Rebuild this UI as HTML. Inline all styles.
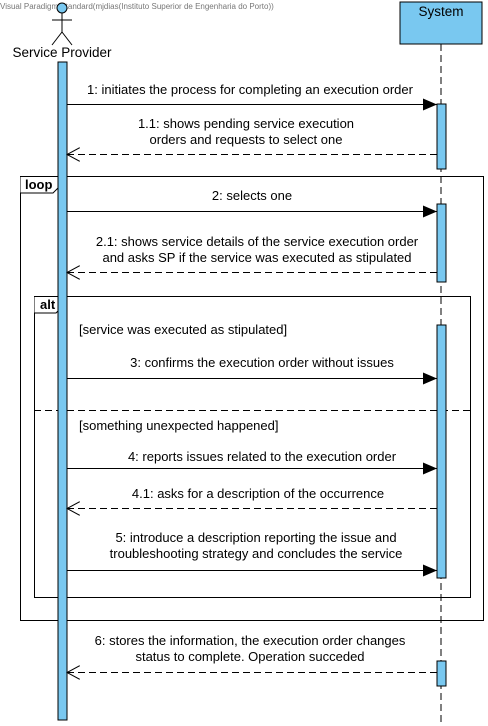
<!DOCTYPE html>
<html><head><meta charset="utf-8"><style>body{margin:0;background:#fff}svg{display:block}text{font-family:"Liberation Sans",Arial,sans-serif;font-size:13px;fill:#000}</style></head><body>
<svg width="488" height="726" viewBox="0 0 488 726">
<defs>
<marker id="f" markerWidth="14" markerHeight="12" refX="14" refY="6" orient="auto" markerUnits="userSpaceOnUse"><path d="M0,0 L14,6 L0,12 z" fill="#000"/></marker>
<marker id="o" markerWidth="14" markerHeight="14" refX="13" refY="7" orient="auto" markerUnits="userSpaceOnUse"><path d="M0,0 L13,7 L0,14" fill="none" stroke="#000"/></marker>
</defs>
<text x="0" y="9" style="font-size:8px;fill:#777">Visual Paradigm Standard(mjdias(Instituto Superior de Engenharia do Porto))</text>
<!-- actor -->
<circle cx="62" cy="8" r="5" fill="#79c8f0" stroke="#000"/>
<line x1="62" y1="13" x2="62" y2="33" stroke="#000"/>
<line x1="52" y1="20" x2="72" y2="20" stroke="#000"/>
<line x1="62" y1="32" x2="52" y2="45" stroke="#000"/>
<line x1="62" y1="32" x2="72" y2="45" stroke="#000"/>
<text x="62" y="57" text-anchor="middle" style="font-size:13.5px">Service Provider</text>
<!-- system -->
<rect x="400" y="2" width="82" height="42" fill="#79c8f0" stroke="#000"/>
<text x="441" y="16" text-anchor="middle" style="font-size:13.5px">System</text>
<line x1="441" y1="44" x2="441" y2="722" stroke="#000" stroke-dasharray="7,4"/>
<!-- frames -->
<rect x="20.5" y="176.5" width="463" height="444" fill="none" stroke="#000"/>
<path d="M20.5,176.5 H58 V188 L53,193 H20.5" fill="#fff" stroke="#000"/>
<text x="25" y="189" style="font-weight:bold">loop</text>
<rect x="34.5" y="296.5" width="436" height="301" fill="none" stroke="#000"/>
<path d="M34.5,296.5 H61 V308 L56,313 H34.5" fill="#fff" stroke="#000"/>
<text x="40" y="309" style="font-weight:bold">alt</text>
<line x1="34" y1="410.5" x2="470" y2="410.5" stroke="#000" stroke-dasharray="7,4"/>
<!-- activations -->
<rect x="58" y="62" width="9" height="658" fill="#79c8f0" stroke="#000"/>
<rect x="437" y="104" width="9" height="65" fill="#79c8f0" stroke="#000"/>
<rect x="437" y="204" width="9" height="78" fill="#79c8f0" stroke="#000"/>
<rect x="437" y="325" width="9" height="253" fill="#79c8f0" stroke="#000"/>
<rect x="437" y="661" width="9" height="25" fill="#79c8f0" stroke="#000"/>
<!-- messages -->
<g stroke="#000" fill="none">
<line x1="67" y1="104.5" x2="437" y2="104.5" marker-end="url(#f)"/>
<line x1="437" y1="154.5" x2="67" y2="154.5" stroke-dasharray="7,4" marker-end="url(#o)"/>
<line x1="67" y1="211.5" x2="437" y2="211.5" marker-end="url(#f)"/>
<line x1="437" y1="272.5" x2="67" y2="272.5" stroke-dasharray="7,4" marker-end="url(#o)"/>
<line x1="67" y1="378.5" x2="437" y2="378.5" marker-end="url(#f)"/>
<line x1="67" y1="468.5" x2="437" y2="468.5" marker-end="url(#f)"/>
<line x1="437" y1="508.5" x2="67" y2="508.5" stroke-dasharray="7,4" marker-end="url(#o)"/>
<line x1="67" y1="570.5" x2="437" y2="570.5" marker-end="url(#f)"/>
<line x1="437" y1="672.5" x2="67" y2="672.5" stroke-dasharray="7,4" marker-end="url(#o)"/>
</g>
<g text-anchor="middle">
<text x="250" y="94">1: initiates the process for completing an execution order</text>
<text x="246" y="128">1.1: shows pending service execution</text>
<text x="246" y="144">orders and requests to select one</text>
<text x="252" y="200">2: selects one</text>
<text x="257" y="246">2.1: shows service details of the service execution order</text>
<text x="257" y="262">and asks SP if the service was executed as stipulated</text>
<text x="262" y="367">3: confirms the execution order  without issues</text>
<text x="262" y="461">4: reports issues related to the execution order</text>
<text x="258" y="498">4.1: asks for a description of the occurrence</text>
<text x="256" y="542">5: introduce a description reporting the issue and</text>
<text x="256" y="558">troubleshooting strategy and concludes the service</text>
<text x="250" y="645">6: stores the information, the execution order changes</text>
<text x="250" y="661">status to complete. Operation succeded</text>
</g>
<text x="79" y="334">[service was executed as stipulated]</text>
<text x="79" y="430">[something unexpected happened]</text>
</svg>
</body></html>
